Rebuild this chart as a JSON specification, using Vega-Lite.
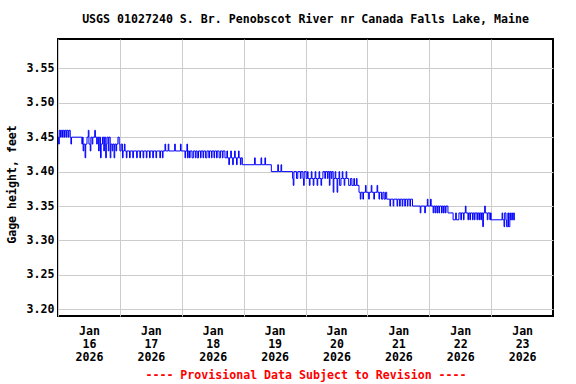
{
  "$schema": "https://vega.github.io/schema/vega-lite/v6.json",
  "width": 495,
  "height": 277,
  "autosize": {"type": "none"},
  "padding": {"left": 58, "top": 39, "right": 23, "bottom": 68},
  "background": "white",
  "title": {
    "text": "USGS 01027240 S. Br. Penobscot River nr Canada Falls Lake, Maine",
    "font": "DejaVu Sans Mono",
    "fontSize": 11.6,
    "fontWeight": "bold",
    "color": "black",
    "anchor": "middle",
    "frame": "group",
    "baseline": "alphabetic",
    "offset": 4
  },
  "config": {
    "view": {"stroke": "black", "strokeWidth": 2},
    "axis": {
      "labelFont": "DejaVu Sans Mono",
      "labelFontSize": 11.6,
      "labelFontWeight": "bold",
      "labelColor": "black",
      "titleFont": "DejaVu Sans Mono",
      "titleFontSize": 11.6,
      "titleFontWeight": "bold",
      "titleColor": "black",
      "gridColor": "#cccccc",
      "gridWidth": 1,
      "gridOpacity": 1,
      "domain": false,
      "ticks": false,
      "tickSize": 0
    }
  },
  "data": {
    "values": [
      {"t": "2026-01-16T00:00", "v": 3.45}, {"t": "2026-01-16T00:15", "v": 3.44}, {"t": "2026-01-16T00:30", "v": 3.46},
      {"t": "2026-01-16T01:00", "v": 3.45}, {"t": "2026-01-16T01:15", "v": 3.46}, {"t": "2026-01-16T01:45", "v": 3.45},
      {"t": "2026-01-16T02:00", "v": 3.46}, {"t": "2026-01-16T02:30", "v": 3.45}, {"t": "2026-01-16T02:45", "v": 3.46},
      {"t": "2026-01-16T03:15", "v": 3.45}, {"t": "2026-01-16T03:30", "v": 3.46}, {"t": "2026-01-16T04:00", "v": 3.45},
      {"t": "2026-01-16T04:15", "v": 3.46}, {"t": "2026-01-16T04:45", "v": 3.45}, {"t": "2026-01-16T05:00", "v": 3.44},
      {"t": "2026-01-16T05:15", "v": 3.45}, {"t": "2026-01-16T09:15", "v": 3.44}, {"t": "2026-01-16T09:30", "v": 3.45},
      {"t": "2026-01-16T09:45", "v": 3.43}, {"t": "2026-01-16T10:00", "v": 3.44}, {"t": "2026-01-16T10:30", "v": 3.42},
      {"t": "2026-01-16T10:45", "v": 3.44}, {"t": "2026-01-16T11:15", "v": 3.45}, {"t": "2026-01-16T11:45", "v": 3.46},
      {"t": "2026-01-16T12:00", "v": 3.44}, {"t": "2026-01-16T12:30", "v": 3.43}, {"t": "2026-01-16T12:45", "v": 3.45},
      {"t": "2026-01-16T13:15", "v": 3.44}, {"t": "2026-01-16T13:30", "v": 3.45}, {"t": "2026-01-16T14:15", "v": 3.46},
      {"t": "2026-01-16T14:30", "v": 3.45}, {"t": "2026-01-16T15:00", "v": 3.44}, {"t": "2026-01-16T15:15", "v": 3.45},
      {"t": "2026-01-16T15:45", "v": 3.43}, {"t": "2026-01-16T16:00", "v": 3.45}, {"t": "2026-01-16T16:30", "v": 3.42},
      {"t": "2026-01-16T16:45", "v": 3.44}, {"t": "2026-01-16T17:15", "v": 3.45}, {"t": "2026-01-16T17:45", "v": 3.43},
      {"t": "2026-01-16T18:00", "v": 3.45}, {"t": "2026-01-16T18:30", "v": 3.42}, {"t": "2026-01-16T18:45", "v": 3.44},
      {"t": "2026-01-16T19:00", "v": 3.45}, {"t": "2026-01-16T19:30", "v": 3.43}, {"t": "2026-01-16T19:45", "v": 3.45},
      {"t": "2026-01-16T20:15", "v": 3.42}, {"t": "2026-01-16T20:30", "v": 3.44}, {"t": "2026-01-16T21:00", "v": 3.43},
      {"t": "2026-01-16T21:15", "v": 3.44}, {"t": "2026-01-16T21:45", "v": 3.42}, {"t": "2026-01-16T22:00", "v": 3.44},
      {"t": "2026-01-16T22:30", "v": 3.43}, {"t": "2026-01-16T22:45", "v": 3.44}, {"t": "2026-01-16T23:15", "v": 3.45},
      {"t": "2026-01-16T23:45", "v": 3.44},
      {"t": "2026-01-17T00:00", "v": 3.43}, {"t": "2026-01-17T00:30", "v": 3.44}, {"t": "2026-01-17T01:00", "v": 3.42},
      {"t": "2026-01-17T01:15", "v": 3.43}, {"t": "2026-01-17T01:45", "v": 3.44}, {"t": "2026-01-17T02:00", "v": 3.43},
      {"t": "2026-01-17T02:30", "v": 3.42}, {"t": "2026-01-17T02:45", "v": 3.43}, {"t": "2026-01-17T03:45", "v": 3.42},
      {"t": "2026-01-17T04:00", "v": 3.43}, {"t": "2026-01-17T05:00", "v": 3.42}, {"t": "2026-01-17T05:15", "v": 3.43},
      {"t": "2026-01-17T06:30", "v": 3.42}, {"t": "2026-01-17T06:45", "v": 3.43}, {"t": "2026-01-17T07:45", "v": 3.42},
      {"t": "2026-01-17T08:00", "v": 3.43}, {"t": "2026-01-17T09:00", "v": 3.42}, {"t": "2026-01-17T09:15", "v": 3.43},
      {"t": "2026-01-17T10:15", "v": 3.42}, {"t": "2026-01-17T10:30", "v": 3.43}, {"t": "2026-01-17T11:30", "v": 3.42},
      {"t": "2026-01-17T11:45", "v": 3.43}, {"t": "2026-01-17T12:45", "v": 3.42}, {"t": "2026-01-17T13:00", "v": 3.43},
      {"t": "2026-01-17T14:00", "v": 3.42}, {"t": "2026-01-17T14:15", "v": 3.43}, {"t": "2026-01-17T15:30", "v": 3.42},
      {"t": "2026-01-17T15:45", "v": 3.43}, {"t": "2026-01-17T16:30", "v": 3.42}, {"t": "2026-01-17T16:45", "v": 3.43},
      {"t": "2026-01-17T17:30", "v": 3.44}, {"t": "2026-01-17T17:45", "v": 3.43}, {"t": "2026-01-17T18:45", "v": 3.44},
      {"t": "2026-01-17T19:00", "v": 3.43}, {"t": "2026-01-17T21:15", "v": 3.44}, {"t": "2026-01-17T21:30", "v": 3.43},
      {"t": "2026-01-17T23:30", "v": 3.44}, {"t": "2026-01-17T23:45", "v": 3.43},
      {"t": "2026-01-18T01:15", "v": 3.42}, {"t": "2026-01-18T01:30", "v": 3.43}, {"t": "2026-01-18T02:00", "v": 3.44},
      {"t": "2026-01-18T02:15", "v": 3.42}, {"t": "2026-01-18T02:30", "v": 3.43}, {"t": "2026-01-18T03:00", "v": 3.42},
      {"t": "2026-01-18T03:15", "v": 3.43}, {"t": "2026-01-18T04:00", "v": 3.42}, {"t": "2026-01-18T04:30", "v": 3.43},
      {"t": "2026-01-18T05:15", "v": 3.42}, {"t": "2026-01-18T05:30", "v": 3.43}, {"t": "2026-01-18T06:00", "v": 3.42},
      {"t": "2026-01-18T06:30", "v": 3.43}, {"t": "2026-01-18T07:15", "v": 3.42}, {"t": "2026-01-18T07:30", "v": 3.43},
      {"t": "2026-01-18T08:15", "v": 3.42}, {"t": "2026-01-18T08:30", "v": 3.43}, {"t": "2026-01-18T09:15", "v": 3.42},
      {"t": "2026-01-18T09:45", "v": 3.43}, {"t": "2026-01-18T10:30", "v": 3.42}, {"t": "2026-01-18T10:45", "v": 3.43},
      {"t": "2026-01-18T11:30", "v": 3.42}, {"t": "2026-01-18T11:45", "v": 3.43}, {"t": "2026-01-18T12:30", "v": 3.42},
      {"t": "2026-01-18T12:45", "v": 3.43}, {"t": "2026-01-18T13:30", "v": 3.42}, {"t": "2026-01-18T13:45", "v": 3.43},
      {"t": "2026-01-18T14:30", "v": 3.42}, {"t": "2026-01-18T15:00", "v": 3.43}, {"t": "2026-01-18T15:45", "v": 3.42},
      {"t": "2026-01-18T16:00", "v": 3.43}, {"t": "2026-01-18T16:45", "v": 3.42}, {"t": "2026-01-18T17:30", "v": 3.43},
      {"t": "2026-01-18T17:45", "v": 3.42}, {"t": "2026-01-18T18:15", "v": 3.41}, {"t": "2026-01-18T18:30", "v": 3.42},
      {"t": "2026-01-18T19:00", "v": 3.43}, {"t": "2026-01-18T19:15", "v": 3.42}, {"t": "2026-01-18T19:45", "v": 3.41},
      {"t": "2026-01-18T20:00", "v": 3.42}, {"t": "2026-01-18T20:30", "v": 3.43}, {"t": "2026-01-18T20:45", "v": 3.42},
      {"t": "2026-01-18T21:15", "v": 3.41}, {"t": "2026-01-18T21:30", "v": 3.42}, {"t": "2026-01-18T22:00", "v": 3.43},
      {"t": "2026-01-18T22:15", "v": 3.42}, {"t": "2026-01-18T22:45", "v": 3.41}, {"t": "2026-01-18T23:00", "v": 3.42},
      {"t": "2026-01-18T23:30", "v": 3.41},
      {"t": "2026-01-19T04:15", "v": 3.42}, {"t": "2026-01-19T04:30", "v": 3.41}, {"t": "2026-01-19T06:45", "v": 3.42},
      {"t": "2026-01-19T07:00", "v": 3.41}, {"t": "2026-01-19T08:15", "v": 3.42}, {"t": "2026-01-19T08:30", "v": 3.41},
      {"t": "2026-01-19T10:45", "v": 3.40}, {"t": "2026-01-19T13:15", "v": 3.41}, {"t": "2026-01-19T13:30", "v": 3.40},
      {"t": "2026-01-19T14:30", "v": 3.41}, {"t": "2026-01-19T14:45", "v": 3.40}, {"t": "2026-01-19T19:00", "v": 3.39},
      {"t": "2026-01-19T19:15", "v": 3.38}, {"t": "2026-01-19T19:30", "v": 3.40}, {"t": "2026-01-19T20:30", "v": 3.39},
      {"t": "2026-01-19T21:00", "v": 3.40}, {"t": "2026-01-19T22:00", "v": 3.39}, {"t": "2026-01-19T22:15", "v": 3.40},
      {"t": "2026-01-19T23:00", "v": 3.39}, {"t": "2026-01-19T23:15", "v": 3.38}, {"t": "2026-01-19T23:30", "v": 3.40},
      {"t": "2026-01-20T00:15", "v": 3.39}, {"t": "2026-01-20T00:45", "v": 3.40}, {"t": "2026-01-20T01:00", "v": 3.39},
      {"t": "2026-01-20T01:30", "v": 3.38}, {"t": "2026-01-20T01:45", "v": 3.39}, {"t": "2026-01-20T02:15", "v": 3.40},
      {"t": "2026-01-20T02:30", "v": 3.39}, {"t": "2026-01-20T03:00", "v": 3.38}, {"t": "2026-01-20T03:15", "v": 3.39},
      {"t": "2026-01-20T03:45", "v": 3.40}, {"t": "2026-01-20T04:00", "v": 3.39}, {"t": "2026-01-20T04:30", "v": 3.38},
      {"t": "2026-01-20T04:45", "v": 3.39}, {"t": "2026-01-20T05:15", "v": 3.40}, {"t": "2026-01-20T05:30", "v": 3.39},
      {"t": "2026-01-20T06:00", "v": 3.38}, {"t": "2026-01-20T06:15", "v": 3.39}, {"t": "2026-01-20T06:45", "v": 3.40},
      {"t": "2026-01-20T07:30", "v": 3.39}, {"t": "2026-01-20T07:45", "v": 3.40}, {"t": "2026-01-20T08:30", "v": 3.39},
      {"t": "2026-01-20T08:45", "v": 3.40}, {"t": "2026-01-20T09:15", "v": 3.38}, {"t": "2026-01-20T09:30", "v": 3.40},
      {"t": "2026-01-20T10:00", "v": 3.39}, {"t": "2026-01-20T10:15", "v": 3.40}, {"t": "2026-01-20T10:45", "v": 3.37},
      {"t": "2026-01-20T11:00", "v": 3.39}, {"t": "2026-01-20T11:30", "v": 3.40}, {"t": "2026-01-20T11:45", "v": 3.39},
      {"t": "2026-01-20T12:15", "v": 3.37}, {"t": "2026-01-20T12:30", "v": 3.39}, {"t": "2026-01-20T13:00", "v": 3.40},
      {"t": "2026-01-20T13:15", "v": 3.38}, {"t": "2026-01-20T13:45", "v": 3.39}, {"t": "2026-01-20T14:15", "v": 3.40},
      {"t": "2026-01-20T14:30", "v": 3.39}, {"t": "2026-01-20T15:00", "v": 3.38}, {"t": "2026-01-20T15:15", "v": 3.39},
      {"t": "2026-01-20T15:45", "v": 3.40}, {"t": "2026-01-20T16:00", "v": 3.39}, {"t": "2026-01-20T16:45", "v": 3.38},
      {"t": "2026-01-20T17:30", "v": 3.39}, {"t": "2026-01-20T18:00", "v": 3.38}, {"t": "2026-01-20T18:45", "v": 3.39},
      {"t": "2026-01-20T19:00", "v": 3.38}, {"t": "2026-01-20T19:45", "v": 3.39}, {"t": "2026-01-20T20:00", "v": 3.38},
      {"t": "2026-01-20T20:45", "v": 3.37}, {"t": "2026-01-20T21:15", "v": 3.36}, {"t": "2026-01-20T21:30", "v": 3.37},
      {"t": "2026-01-20T22:15", "v": 3.36}, {"t": "2026-01-20T22:30", "v": 3.37}, {"t": "2026-01-20T23:15", "v": 3.38},
      {"t": "2026-01-20T23:30", "v": 3.37},
      {"t": "2026-01-21T00:30", "v": 3.36}, {"t": "2026-01-21T00:45", "v": 3.37}, {"t": "2026-01-21T01:30", "v": 3.38},
      {"t": "2026-01-21T01:45", "v": 3.37}, {"t": "2026-01-21T02:30", "v": 3.36}, {"t": "2026-01-21T02:45", "v": 3.37},
      {"t": "2026-01-21T03:45", "v": 3.38}, {"t": "2026-01-21T04:00", "v": 3.37}, {"t": "2026-01-21T04:30", "v": 3.36},
      {"t": "2026-01-21T04:45", "v": 3.37}, {"t": "2026-01-21T05:30", "v": 3.36}, {"t": "2026-01-21T06:00", "v": 3.37},
      {"t": "2026-01-21T06:30", "v": 3.36}, {"t": "2026-01-21T07:00", "v": 3.37}, {"t": "2026-01-21T07:30", "v": 3.36},
      {"t": "2026-01-21T08:45", "v": 3.35}, {"t": "2026-01-21T09:00", "v": 3.36}, {"t": "2026-01-21T10:00", "v": 3.35},
      {"t": "2026-01-21T10:15", "v": 3.36}, {"t": "2026-01-21T11:30", "v": 3.35}, {"t": "2026-01-21T11:45", "v": 3.36},
      {"t": "2026-01-21T12:30", "v": 3.35}, {"t": "2026-01-21T12:45", "v": 3.36}, {"t": "2026-01-21T13:30", "v": 3.35},
      {"t": "2026-01-21T13:45", "v": 3.36}, {"t": "2026-01-21T14:30", "v": 3.35}, {"t": "2026-01-21T14:45", "v": 3.36},
      {"t": "2026-01-21T15:30", "v": 3.35}, {"t": "2026-01-21T15:45", "v": 3.36}, {"t": "2026-01-21T16:30", "v": 3.35},
      {"t": "2026-01-21T16:45", "v": 3.36}, {"t": "2026-01-21T17:30", "v": 3.35}, {"t": "2026-01-21T20:30", "v": 3.34},
      {"t": "2026-01-21T20:45", "v": 3.35}, {"t": "2026-01-21T22:15", "v": 3.34}, {"t": "2026-01-21T22:30", "v": 3.35},
      {"t": "2026-01-21T23:15", "v": 3.36}, {"t": "2026-01-21T23:30", "v": 3.35},
      {"t": "2026-01-22T00:30", "v": 3.36}, {"t": "2026-01-22T00:45", "v": 3.35}, {"t": "2026-01-22T01:30", "v": 3.34},
      {"t": "2026-01-22T01:45", "v": 3.35}, {"t": "2026-01-22T02:15", "v": 3.34}, {"t": "2026-01-22T02:30", "v": 3.35},
      {"t": "2026-01-22T03:00", "v": 3.34}, {"t": "2026-01-22T03:15", "v": 3.35}, {"t": "2026-01-22T03:45", "v": 3.34},
      {"t": "2026-01-22T04:00", "v": 3.35}, {"t": "2026-01-22T04:45", "v": 3.34}, {"t": "2026-01-22T05:00", "v": 3.35},
      {"t": "2026-01-22T05:30", "v": 3.34}, {"t": "2026-01-22T05:45", "v": 3.35}, {"t": "2026-01-22T06:15", "v": 3.34},
      {"t": "2026-01-22T06:30", "v": 3.35}, {"t": "2026-01-22T07:15", "v": 3.34}, {"t": "2026-01-22T09:15", "v": 3.33},
      {"t": "2026-01-22T10:15", "v": 3.34}, {"t": "2026-01-22T10:30", "v": 3.33}, {"t": "2026-01-22T11:30", "v": 3.34},
      {"t": "2026-01-22T12:15", "v": 3.33}, {"t": "2026-01-22T12:30", "v": 3.34}, {"t": "2026-01-22T13:15", "v": 3.33},
      {"t": "2026-01-22T13:30", "v": 3.34}, {"t": "2026-01-22T14:00", "v": 3.35}, {"t": "2026-01-22T14:15", "v": 3.34},
      {"t": "2026-01-22T15:00", "v": 3.33}, {"t": "2026-01-22T15:15", "v": 3.34}, {"t": "2026-01-22T15:45", "v": 3.33},
      {"t": "2026-01-22T16:00", "v": 3.34}, {"t": "2026-01-22T16:45", "v": 3.33}, {"t": "2026-01-22T17:00", "v": 3.34},
      {"t": "2026-01-22T17:30", "v": 3.33}, {"t": "2026-01-22T17:45", "v": 3.34}, {"t": "2026-01-22T18:30", "v": 3.33},
      {"t": "2026-01-22T18:45", "v": 3.34}, {"t": "2026-01-22T19:15", "v": 3.33}, {"t": "2026-01-22T19:30", "v": 3.34},
      {"t": "2026-01-22T20:00", "v": 3.33}, {"t": "2026-01-22T20:15", "v": 3.34}, {"t": "2026-01-22T20:45", "v": 3.32},
      {"t": "2026-01-22T21:00", "v": 3.34}, {"t": "2026-01-22T21:30", "v": 3.35}, {"t": "2026-01-22T21:45", "v": 3.34},
      {"t": "2026-01-22T22:30", "v": 3.33}, {"t": "2026-01-22T22:45", "v": 3.34}, {"t": "2026-01-22T23:30", "v": 3.33},
      {"t": "2026-01-22T23:45", "v": 3.34},
      {"t": "2026-01-23T00:00", "v": 3.33}, {"t": "2026-01-23T04:15", "v": 3.34}, {"t": "2026-01-23T04:30", "v": 3.33},
      {"t": "2026-01-23T05:00", "v": 3.32}, {"t": "2026-01-23T05:15", "v": 3.34}, {"t": "2026-01-23T05:45", "v": 3.33},
      {"t": "2026-01-23T06:00", "v": 3.32}, {"t": "2026-01-23T06:30", "v": 3.34}, {"t": "2026-01-23T06:45", "v": 3.32},
      {"t": "2026-01-23T07:15", "v": 3.34}, {"t": "2026-01-23T07:30", "v": 3.33}, {"t": "2026-01-23T08:00", "v": 3.34},
      {"t": "2026-01-23T08:15", "v": 3.33}, {"t": "2026-01-23T08:45", "v": 3.34}, {"t": "2026-01-23T09:00", "v": 3.33},
      {"t": "2026-01-23T09:15", "v": 3.33}
    ]
  },
  "mark": {"type": "line", "color": "#0000ff", "strokeWidth": 1, "interpolate": "step-after", "clip": true},
  "encoding": {
    "x": {
      "field": "t",
      "type": "temporal",
      "scale": {
        "domain": [
          {"year": 2026, "month": "jan", "date": 16, "hours": 0},
          {"year": 2026, "month": "jan", "date": 24, "hours": 0}
        ],
        "nice": false
      },
      "axis": {
        "values": [
          {"year": 2026, "month": "jan", "date": 16},
          {"year": 2026, "month": "jan", "date": 17},
          {"year": 2026, "month": "jan", "date": 18},
          {"year": 2026, "month": "jan", "date": 19},
          {"year": 2026, "month": "jan", "date": 20},
          {"year": 2026, "month": "jan", "date": 21},
          {"year": 2026, "month": "jan", "date": 22},
          {"year": 2026, "month": "jan", "date": 23}
        ],
        "labelExpr": "[timeFormat(datum.value, '%b'), timeFormat(datum.value, '%d'), timeFormat(datum.value, '%Y')]",
        "labelOffset": 31,
        "labelAlign": "center",
        "labelBaseline": "top",
        "labelLineHeight": 13,
        "labelPadding": 9,
        "labelFlush": false,
        "labelOverlap": false,
        "labelBound": false,
        "grid": true,
        "title": "---- Provisional Data Subject to Revision ----",
        "titleColor": "#ff0000",
        "titleX": 247.5,
        "titleY": 59,
        "titleAlign": "center",
        "titleBaseline": "middle"
      }
    },
    "y": {
      "field": "v",
      "type": "quantitative",
      "scale": {"domain": [3.1903, 3.5926], "nice": false, "zero": false},
      "axis": {
        "values": [3.2, 3.25, 3.3, 3.35, 3.4, 3.45, 3.5, 3.55],
        "format": ".2f",
        "labelPadding": 4,
        "grid": true,
        "title": "Gage height, feet",
        "titleX": -46,
        "titleY": 145,
        "titleAngle": -90,
        "titleAlign": "center",
        "titleBaseline": "middle"
      }
    }
  }
}
